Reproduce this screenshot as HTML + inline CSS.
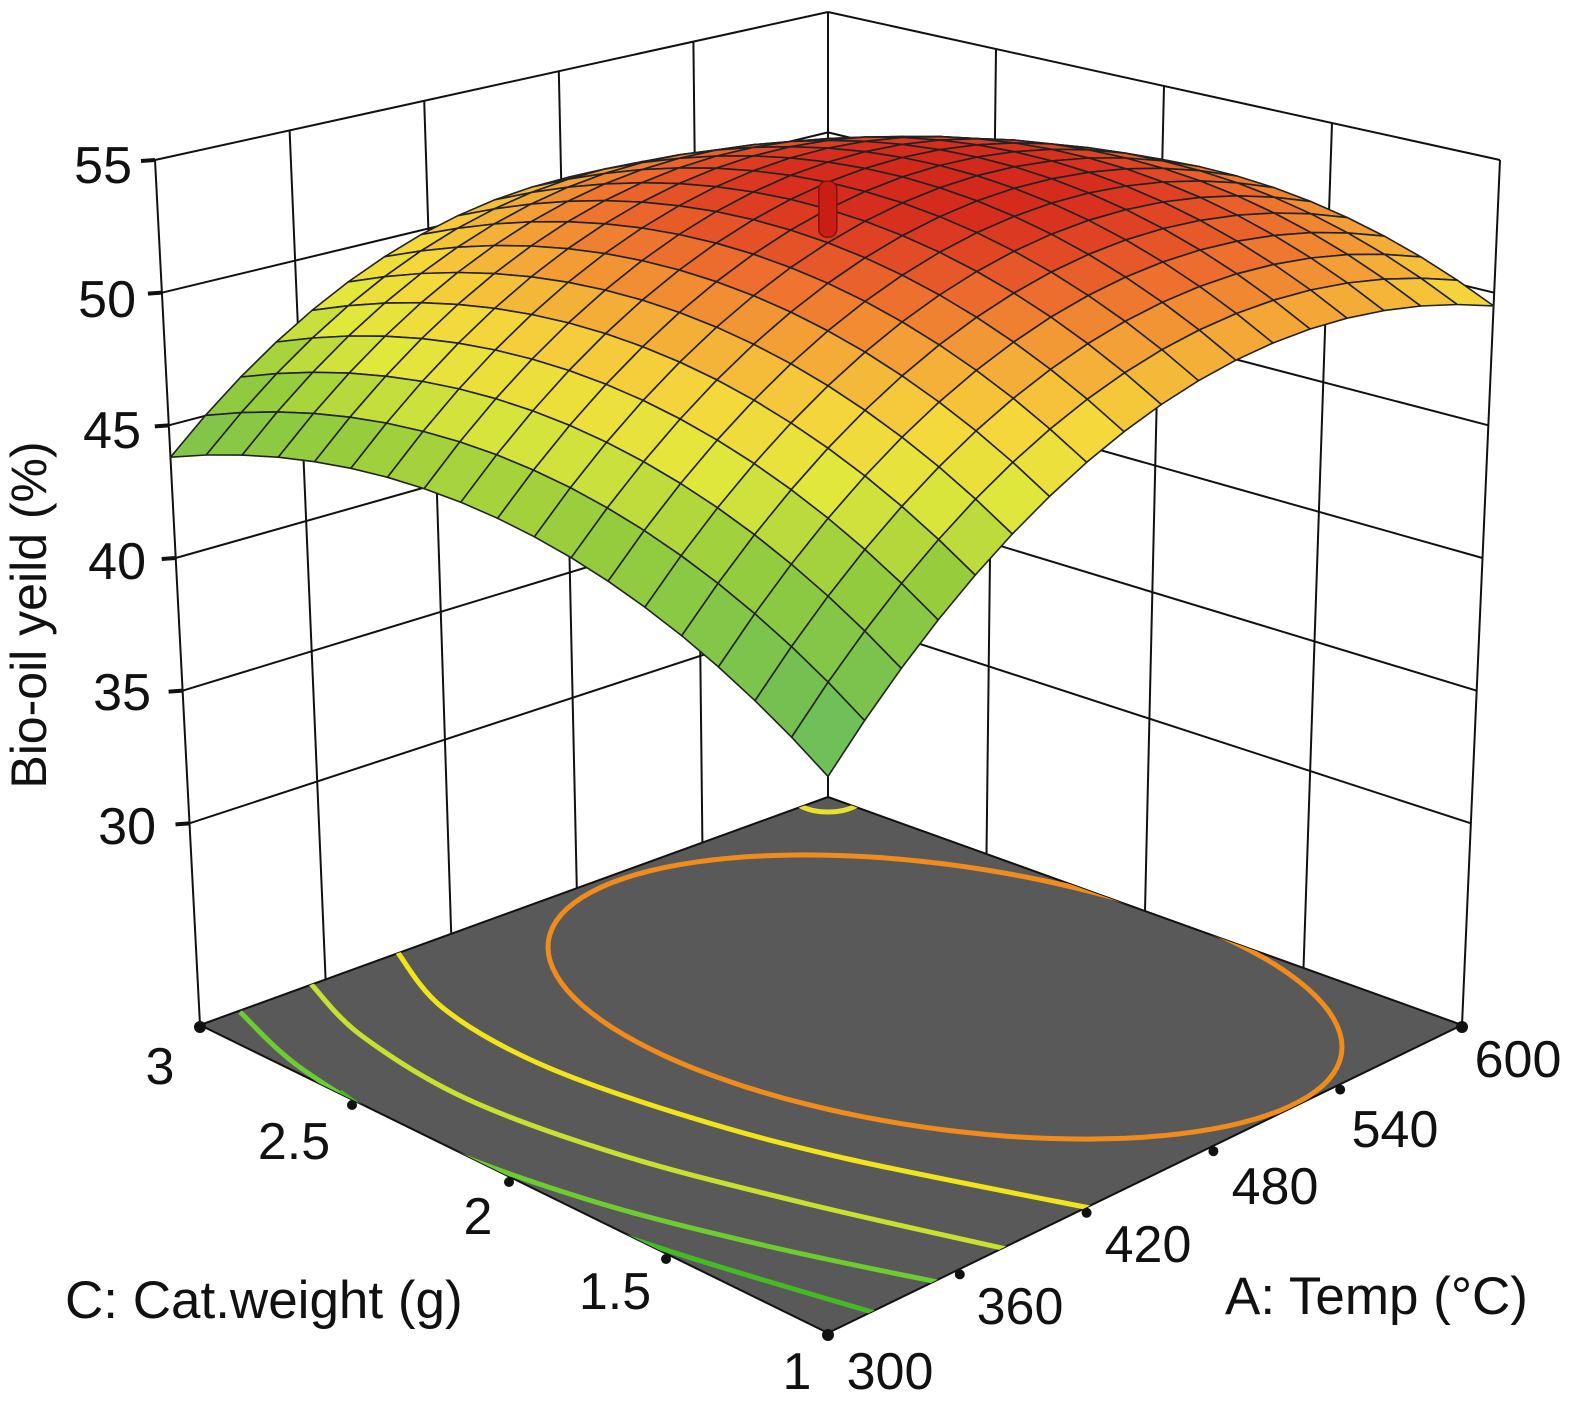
<!DOCTYPE html>
<html><head><meta charset="utf-8">
<style>
html,body{margin:0;padding:0;background:#fff;}
svg{display:block;}
text{font-family:"Liberation Sans",Arial,sans-serif;fill:#111;}
</style></head>
<body>
<svg id="s" width="1575" height="1407" viewBox="0 0 1575 1407" xmlns="http://www.w3.org/2000/svg">
<defs><clipPath id="fc"><polygon points="828,1333 1462,1025 828,797 200,1025"/></clipPath></defs>
<g id="walls"></g>
<polygon points="828,1333 1462,1025 828,797 200,1025" fill="#595959" stroke="#111" stroke-width="2"/>
<g id="cont" clip-path="url(#fc)">
<ellipse cx="828" cy="790" rx="40" ry="22" fill="none" stroke="#e8e030" stroke-width="5"/>
</g>
<g id="surf"></g>
<g id="lab">
<g font-size="52" text-anchor="end">
<text x="132" y="183">55</text>
<text x="136" y="317">50</text>
<text x="141" y="448">45</text>
<text x="146" y="579">40</text>
<text x="151" y="710">35</text>
<text x="156" y="844">30</text>
</g>
<text transform="translate(46,615) rotate(-90)" font-size="50" text-anchor="middle">Bio-oil yeild (%)</text>
<g font-size="52" text-anchor="middle">
<text x="160" y="1084">3</text>
<text x="294" y="1159">2.5</text>
<text x="478" y="1234">2</text>
<text x="615" y="1309">1.5</text>
<text x="797" y="1389">1</text>
<text x="890" y="1389">300</text>
<text x="1020" y="1324">360</text>
<text x="1148" y="1262">420</text>
<text x="1275" y="1204">480</text>
<text x="1395" y="1147">540</text>
<text x="1518" y="1077">600</text>
</g>
<text x="65" y="1318" font-size="53">C: Cat.weight (g)</text>
<text x="1225" y="1314" font-size="53">A: Temp (°C)</text>
</g>
</svg>
<script>
var F={a0c0:[828,1333],a1c0:[1462,1025],a0c1:[200,1025],a1c1:[828,797]};
var T={a0c0:[828,388],a1c0:[1500,160],a0c1:[155,160],a1c1:[828,12]};
function bil(G,a,c,k){return G.a0c0[k]*(1-a)*(1-c)+G.a1c0[k]*a*(1-c)+G.a0c1[k]*(1-a)*c+G.a1c1[k]*a*c;}
function P(a,c,z){var t=(z-22.4)/32.6;return [bil(F,a,c,0)+t*(bil(T,a,c,0)-bil(F,a,c,0)),bil(F,a,c,1)+t*(bil(T,a,c,1)-bil(F,a,c,1))];}
function Z(a,c){var u=2*a-1,v=2*c-1;return 53.9+2.95*u+0.1*v-4.75*u*u-3.5*v*v-1.0*u*v;}
var NS="http://www.w3.org/2000/svg";
function el(g,tag,at){var e=document.createElementNS(NS,tag);for(var k in at)e.setAttribute(k,at[k]);g.appendChild(e);return e;}
function line(g,p,q,w){el(g,"line",{x1:p[0],y1:p[1],x2:q[0],y2:q[1],stroke:"#111","stroke-width":w||2});}
var W=document.getElementById("walls");
for(var i=0;i<=5;i++){var a=i/5;line(W,P(a,1,22.4),P(a,1,55));}
for(var z=30;z<=55;z+=5){line(W,P(0,1,z),P(1,1,z));}
for(var j=0;j<=4;j++){var c=j/4;line(W,P(1,c,22.4),P(1,c,55));}
for(var z=30;z<=55;z+=5){line(W,P(1,0,z),P(1,1,z));}
for(var z=30;z<=55;z+=5){var p=P(0,1,z);el(W,"line",{x1:p[0]-14,y1:p[1]+1,x2:p[0],y2:p[1],stroke:"#111","stroke-width":4});}
var C=document.getElementById("cont");
// orange ellipse (sheared parametric)
(function(){var cx=945,cy=997,p=397,q=133,r=50,s="";for(var k=0;k<=120;k++){var t=k/120*2*Math.PI;var x=cx+p*Math.cos(t),y=cy+q*Math.sin(t)+r*Math.cos(t);s+=(k?"L":"M")+x.toFixed(1)+","+y.toFixed(1);}s+="Z";el(C,"path",{d:s,fill:"none",stroke:"#f08c1c","stroke-width":5});})();
function cr(pts){var s="M"+pts[0][0]+","+pts[0][1];for(var i=0;i<pts.length-1;i++){var p0=pts[Math.max(0,i-1)],p1=pts[i],p2=pts[i+1],p3=pts[Math.min(pts.length-1,i+2)];
s+="C"+(p1[0]+(p2[0]-p0[0])/6).toFixed(1)+","+(p1[1]+(p2[1]-p0[1])/6).toFixed(1)+" "+(p2[0]-(p3[0]-p1[0])/6).toFixed(1)+","+(p2[1]-(p3[1]-p1[1])/6).toFixed(1)+" "+p2[0]+","+p2[1];}return s;}
[[[[396,950],[443,1008],[540,1064],[686,1116],[848,1159],[1110,1212]],"#f2e41a"],
 [[[311,984],[362,1036],[467,1099],[621,1155],[808,1204],[1020,1252]],"#c8e030"],
 [[[240,1012],[305,1071],[427,1141],[589,1200],[767,1246],[947,1284]],"#6ccc30"],
 [[[340,1092],[467,1176],[654,1246],[882,1315]],"#44bb22"]].forEach(function(L){el(C,"path",{d:cr(L[0]),fill:"none",stroke:L[1],"stroke-width":5});});
var S=document.getElementById("surf"),N=18,faces=[];
var stops=[[40,[130,210,140]],[43,[110,190,85]],[46.5,[150,205,60]],[48.5,[225,232,60]],[50,[245,215,60]],[51.5,[244,165,55]],[52.8,[236,105,45]],[54,[215,45,30]],[56,[190,20,20]]];
function col(z){if(z<=stops[0][0])return "rgb(130,210,140)";for(var k=0;k<stops.length-1;k++){if(z<=stops[k+1][0]){var t=(z-stops[k][0])/(stops[k+1][0]-stops[k][0]);var a=stops[k][1],b=stops[k+1][1];return "rgb("+Math.round(a[0]+t*(b[0]-a[0]))+","+Math.round(a[1]+t*(b[1]-a[1]))+","+Math.round(a[2]+t*(b[2]-a[2]))+")";}}return "rgb(190,20,20)";}
for(var i=0;i<N;i++)for(var j=0;j<N;j++){var a0=i/N,a1=(i+1)/N,c0=j/N,c1=(j+1)/N;
var pts=[P(a0,c0,Z(a0,c0)),P(a1,c0,Z(a1,c0)),P(a1,c1,Z(a1,c1)),P(a0,c1,Z(a0,c1))];
faces.push({d:a0+c0,p:pts,z:Z((a0+a1)/2,(c0+c1)/2)});}
faces.sort(function(x,y){return y.d-x.d;});
faces.forEach(function(f){el(S,"polygon",{points:f.p.map(function(q){return q[0].toFixed(1)+","+q[1].toFixed(1);}).join(" "),fill:col(f.z),stroke:"#222","stroke-width":1.6,"stroke-linejoin":"round"});});
var cp=P(0.5,0.5,Z(0.5,0.5));
el(S,"rect",{x:cp[0]-9,y:cp[1]-28,width:18,height:56,rx:8,fill:"#c81e14",stroke:"#8a0e0a","stroke-width":1.5});
var G=document.getElementById("lab");
[0.25,0.5,0.75].forEach(function(c){var p=P(0,c,22.4);el(G,"circle",{cx:p[0]-5,cy:p[1]+3,r:5,fill:"#111"});});
[0.2,0.4,0.6,0.8].forEach(function(a){var p=P(a,0,22.4);el(G,"circle",{cx:p[0]+5,cy:p[1]+3,r:5,fill:"#111"});});
[P(0,0,22.4),P(0,1,22.4),P(1,0,22.4)].forEach(function(p){el(G,"circle",{cx:p[0],cy:p[1]+2,r:6,fill:"#111"});});
</script>
</body></html>
